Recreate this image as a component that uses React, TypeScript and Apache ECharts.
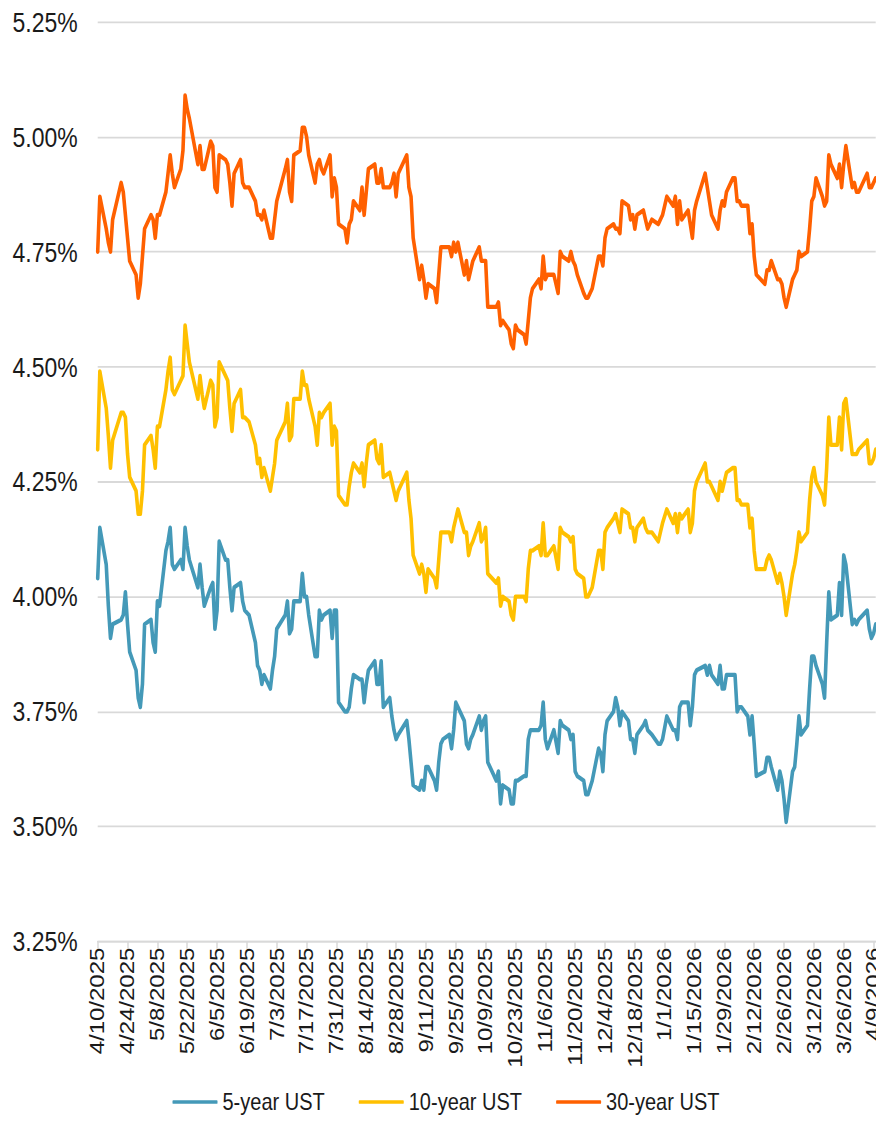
import React, { useEffect, useRef } from "react";
import * as echarts from "echarts";

// ---- data (daily constant-maturity yields, %) ----
const START = "2025-04-10";
const END = "2026-04-10";
const marketHolidays = [
  "2025-04-18", "2025-05-26", "2025-06-19", "2025-07-04", "2025-09-01",
  "2025-10-13", "2025-11-11", "2025-11-27", "2025-12-25", "2026-01-01",
  "2026-01-19", "2026-02-16", "2026-04-03",
];
const seriesNames = ["5-year UST", "10-year UST", "30-year UST"];
const seriesColors = ["#4499B8", "#FFC000", "#FF6000"];
const yTicks = [3.25, 3.5, 3.75, 4.0, 4.25, 4.5, 4.75, 5.0, 5.25];

// one row per trading week
const ust5y = [
  4.04, 4.15,
  4.07, 3.98, 3.91, 3.94,
  3.95, 3.96, 4.01, 3.94, 3.88,
  3.84, 3.78, 3.76, 3.81, 3.94,
  3.95, 3.90, 3.88, 3.99, 3.98,
  4.10, 4.12, 4.15, 4.07, 4.06,
  4.08, 4.06, 4.15, 4.11, 4.08,
  4.02, 4.07, 4.02, 3.98,
  4.02, 4.03, 3.93, 3.97, 4.12,
  4.08, 4.08, 4.02, 3.97, 4.02,
  4.03, 3.99, 3.97, 3.96,
  3.90, 3.85, 3.84, 3.81, 3.83,
  3.80, 3.84, 3.87, 3.93,
  3.96, 3.99, 3.92, 3.93, 3.99,
  3.99, 4.05, 4.00, 4.00, 3.96,
  3.87, 3.87, 3.97, 3.95, 3.96,
  3.97, 3.91, 3.97, 3.97, 3.77,
  3.75, 3.75, 3.76, 3.80, 3.83,
  3.82, 3.82, 3.77, 3.81, 3.84,
  3.86, 3.81, 3.81, 3.86, 3.76,
  3.78, 3.74, 3.71, 3.69, 3.70,
  3.73, 3.69, 3.64, 3.59,
  3.58, 3.60, 3.58, 3.63, 3.63,
  3.60, 3.58, 3.64, 3.68, 3.69,
  3.70, 3.67, 3.71, 3.77, 3.76,
  3.73, 3.68, 3.67, 3.69, 3.70,
  3.74, 3.71, 3.73, 3.74, 3.64,
  3.60, 3.62, 3.55, 3.59,
  3.58, 3.55, 3.55, 3.60, 3.60,
  3.61, 3.61, 3.69, 3.71, 3.71,
  3.71, 3.72, 3.77, 3.69, 3.67,
  3.71, 3.66, 3.73, 3.72,
  3.71, 3.69, 3.70, 3.62, 3.61,
  3.60, 3.57, 3.57, 3.60,
  3.67, 3.66, 3.62, 3.70, 3.73,
  3.75, 3.78, 3.76, 3.72, 3.75,
  3.73, 3.69, 3.69, 3.66, 3.70,
  3.72, 3.73, 3.71, 3.70,
  3.68, 3.68, 3.69, 3.74,
  3.71, 3.71, 3.69, 3.76, 3.77,
  3.77, 3.72, 3.76, 3.83, 3.84,
  3.85, 3.83, 3.85, 3.83,
  3.81, 3.85, 3.80, 3.80, 3.83,
  3.83, 3.83, 3.75, 3.76, 3.76,
  3.74, 3.70, 3.74, 3.68, 3.61,
  3.62, 3.65, 3.65, 3.63,
  3.58, 3.62, 3.60, 3.56, 3.51,
  3.62, 3.63, 3.68, 3.74, 3.70,
  3.72, 3.80, 3.87, 3.87, 3.85,
  3.81, 3.78, 3.90, 4.01, 3.95,
  3.96, 4.03, 3.96, 4.09, 4.07,
  3.94, 3.95, 3.94, 3.95,
  3.97, 3.93, 3.91, 3.92, 3.94,
];

const ust10y = [
  4.32, 4.49,
  4.41, 4.35, 4.28, 4.34,
  4.40, 4.40, 4.39, 4.31, 4.26,
  4.23, 4.18, 4.18, 4.23, 4.33,
  4.35, 4.32, 4.28, 4.37, 4.37,
  4.45, 4.49, 4.52, 4.45, 4.44,
  4.47, 4.48, 4.59, 4.55, 4.51,
  4.43, 4.48, 4.44, 4.41,
  4.47, 4.46, 4.37, 4.39, 4.51,
  4.48, 4.47, 4.41, 4.36, 4.42,
  4.45, 4.39, 4.39, 4.38,
  4.33, 4.29, 4.30, 4.26, 4.28,
  4.23, 4.26, 4.29, 4.34,
  4.38, 4.42, 4.34, 4.35, 4.43,
  4.43, 4.49, 4.46, 4.46, 4.43,
  4.37, 4.33, 4.40, 4.39, 4.40,
  4.42, 4.33, 4.37, 4.36, 4.22,
  4.20, 4.20, 4.24, 4.27, 4.29,
  4.27, 4.29, 4.24, 4.29, 4.33,
  4.34, 4.30, 4.29, 4.33, 4.26,
  4.27, 4.25, 4.23, 4.21, 4.23,
  4.27, 4.21, 4.17, 4.09,
  4.05, 4.07, 4.05, 4.01, 4.06,
  4.04, 4.02, 4.08, 4.14, 4.14,
  4.14, 4.12, 4.15, 4.17, 4.19,
  4.14, 4.14, 4.09, 4.11, 4.12,
  4.16, 4.12, 4.13, 4.15, 4.05,
  4.03, 4.04, 3.98, 4.00,
  3.99, 3.96, 3.95, 4.00, 4.00,
  4.00, 3.99, 4.06, 4.10, 4.10,
  4.11, 4.09, 4.16, 4.09, 4.09,
  4.11, 4.06, 4.15, 4.14,
  4.13, 4.12, 4.13, 4.06, 4.05,
  4.04, 4.00, 4.00, 4.02,
  4.10, 4.10, 4.06, 4.14, 4.15,
  4.17, 4.18, 4.16, 4.14, 4.19,
  4.18, 4.15, 4.15, 4.12, 4.15,
  4.17, 4.15, 4.14, 4.14,
  4.12, 4.14, 4.16, 4.19,
  4.16, 4.18, 4.14, 4.18, 4.17,
  4.19, 4.14, 4.16, 4.23, 4.25,
  4.29, 4.25, 4.25, 4.24,
  4.21, 4.25, 4.23, 4.25, 4.27,
  4.28, 4.28, 4.21, 4.21, 4.20,
  4.20, 4.15, 4.17, 4.10, 4.06,
  4.06, 4.08, 4.09, 4.08,
  4.03, 4.05, 4.03, 4.00, 3.96,
  4.05, 4.07, 4.10, 4.14, 4.12,
  4.14, 4.21, 4.26, 4.28, 4.25,
  4.22, 4.20, 4.28, 4.39, 4.33,
  4.33, 4.39, 4.32, 4.42, 4.43,
  4.31, 4.31, 4.31, 4.32,
  4.34, 4.29, 4.29, 4.30, 4.32,
];

const ust30y = [
  4.75, 4.87,
  4.80, 4.77, 4.75, 4.82,
  4.90, 4.88, 4.83, 4.78, 4.73,
  4.70, 4.65, 4.68, 4.74, 4.80,
  4.83, 4.82, 4.78, 4.83, 4.83,
  4.88, 4.92, 4.96, 4.92, 4.89,
  4.93, 4.97, 5.09, 5.06, 5.04,
  4.94, 4.98, 4.93, 4.93,
  4.99, 4.98, 4.89, 4.88, 4.96,
  4.95, 4.94, 4.90, 4.85, 4.92,
  4.95, 4.90, 4.89, 4.89,
  4.86, 4.83, 4.83, 4.82, 4.84,
  4.78, 4.78, 4.82, 4.86,
  4.93, 4.95, 4.88, 4.86, 4.96,
  4.97, 5.02, 5.02, 5.00, 4.96,
  4.90, 4.94, 4.95, 4.93, 4.92,
  4.96, 4.87, 4.91, 4.89, 4.81,
  4.80, 4.77, 4.81, 4.82, 4.86,
  4.84, 4.89, 4.83, 4.88, 4.93,
  4.94, 4.90, 4.90, 4.93, 4.89,
  4.89, 4.90, 4.92, 4.87, 4.92,
  4.96, 4.89, 4.87, 4.78,
  4.69, 4.72, 4.69, 4.65, 4.68,
  4.67, 4.64, 4.70, 4.76, 4.76,
  4.76, 4.74, 4.77, 4.75, 4.77,
  4.70, 4.73, 4.69, 4.71, 4.73,
  4.76, 4.73, 4.73, 4.73, 4.63,
  4.63, 4.64, 4.59, 4.60,
  4.58, 4.55, 4.54, 4.59, 4.58,
  4.57, 4.55, 4.60, 4.65, 4.67,
  4.69, 4.67, 4.74, 4.69, 4.70,
  4.70, 4.66, 4.75, 4.74,
  4.73, 4.75, 4.73, 4.72, 4.70,
  4.66, 4.65, 4.65, 4.67,
  4.74, 4.74, 4.72, 4.78, 4.80,
  4.81, 4.80, 4.80, 4.79, 4.86,
  4.85, 4.82, 4.83, 4.80, 4.83,
  4.84, 4.82, 4.80, 4.82,
  4.81, 4.82, 4.83, 4.87,
  4.85, 4.87, 4.81, 4.86, 4.82,
  4.84, 4.81, 4.78, 4.84, 4.86,
  4.92, 4.89, 4.86, 4.83,
  4.80, 4.84, 4.86, 4.85, 4.88,
  4.91, 4.91, 4.86, 4.86, 4.85,
  4.85, 4.79, 4.81, 4.74, 4.70,
  4.68, 4.71, 4.71, 4.73,
  4.69, 4.69, 4.68, 4.65, 4.63,
  4.69, 4.70, 4.71, 4.75, 4.74,
  4.75, 4.80, 4.86, 4.87, 4.91,
  4.87, 4.85, 4.86, 4.96, 4.94,
  4.91, 4.94, 4.89, 4.94, 4.98,
  4.89, 4.90, 4.88, 4.88,
  4.92, 4.89, 4.89, 4.90, 4.91,
];

// ---- calendar (date axis: one category per calendar day) ----
function buildCalendar() {
  const labels: string[] = [];
  const tradingIdx: number[] = [];
  const s = new Date(START + "T00:00:00Z");
  const e = new Date(END + "T00:00:00Z");
  const hol = new Set(marketHolidays);
  let i = 0;
  for (let d = new Date(s); d <= e; d.setUTCDate(d.getUTCDate() + 1)) {
    const y = d.getUTCFullYear();
    const m = d.getUTCMonth() + 1;
    const day = d.getUTCDate();
    labels.push(`${m}/${day}/${y}`);
    const iso = d.toISOString().slice(0, 10);
    const wd = d.getUTCDay();
    if (wd !== 0 && wd !== 6 && !hol.has(iso)) tradingIdx.push(i);
    i++;
  }
  return { labels, tradingIdx };
}

function spread(values: number[], tradingIdx: number[], n: number) {
  const out: (number | null)[] = new Array(n).fill(null);
  const len = Math.min(values.length, tradingIdx.length);
  for (let k = 0; k < len; k++) out[tradingIdx[k]] = values[k];
  return out;
}

// ---- layout (the reference is slightly stretched vertically) ----
const K = 1.2;
const W = 876;
const PAGE_H = 1113;
const H = PAGE_H / K;
const FONT = "'Liberation Sans', Arial, sans-serif";
const TEXT = "#1a1a1a";

export default function App() {
  const ref = useRef<HTMLDivElement>(null);
  useEffect(() => {
    if (!ref.current) return;
    const chart = echarts.init(ref.current, null, { renderer: "svg" });
    const { labels, tradingIdx } = buildCalendar();
    const n = labels.length;
    const all = [ust5y, ust10y, ust30y];
    const gridTop = (17 - 8) / K;
    const gridBottom = H - (941 - 8) / K;
    chart.setOption({
      animation: false,
      backgroundColor: "#ffffff",
      textStyle: { fontFamily: FONT },
      grid: { left: 97.7 - 8, right: W - (875.7 - 8), top: gridTop, bottom: gridBottom, containLabel: false },
      legend: {
        data: seriesNames,
        top: (1096 - 8) / K - 10,
        left: "center",
        icon: "roundRect",
        itemWidth: 45,
        itemHeight: 3,
        itemGap: 34,
        textStyle: { fontFamily: FONT, fontSize: 20, color: TEXT, padding: [0, 0, 0, 0] },
      },
      xAxis: {
        type: "category",
        data: labels,
        boundaryGap: false,
        axisLine: { show: true, lineStyle: { color: "#D9D9D9", width: 1.5 } },
        axisTick: { show: true, interval: 13, length: 6, lineStyle: { color: "#D9D9D9", width: 1.5 } },
        axisLabel: {
          interval: 13,
          rotate: 90,
          margin: 5,
          fontFamily: FONT,
          fontSize: 20,
          color: TEXT,
        },
        splitLine: { show: false },
      },
      yAxis: {
        type: "value",
        min: yTicks[0],
        max: yTicks[yTicks.length - 1],
        interval: 0.25,
        axisLine: { show: false },
        axisTick: { show: false },
        axisLabel: {
          margin: 20,
          fontFamily: FONT,
          fontSize: 23,
          color: TEXT,
          formatter: (v: number) => v.toFixed(2) + "%",
        },
        splitLine: { show: true, lineStyle: { color: "#D9D9D9", width: 1.5 } },
      },
      series: all.map((vals, i) => ({
        name: seriesNames[i],
        type: "line",
        data: spread(vals, tradingIdx, n),
        connectNulls: true,
        showSymbol: false,
        symbol: "none",
        lineStyle: { color: seriesColors[i], width: 3.6, cap: "round", join: "round" },
        itemStyle: { color: seriesColors[i] },
        emphasis: { disabled: true },
      })),
    });
    return () => chart.dispose();
  }, []);
  return (
    <div style={{ width: W, height: PAGE_H, position: "relative" }}>
      <div
        ref={ref}
        style={{ width: W, height: H, transform: `scaleY(${K})`, transformOrigin: "0 0" }}
      />
    </div>
  );
}
